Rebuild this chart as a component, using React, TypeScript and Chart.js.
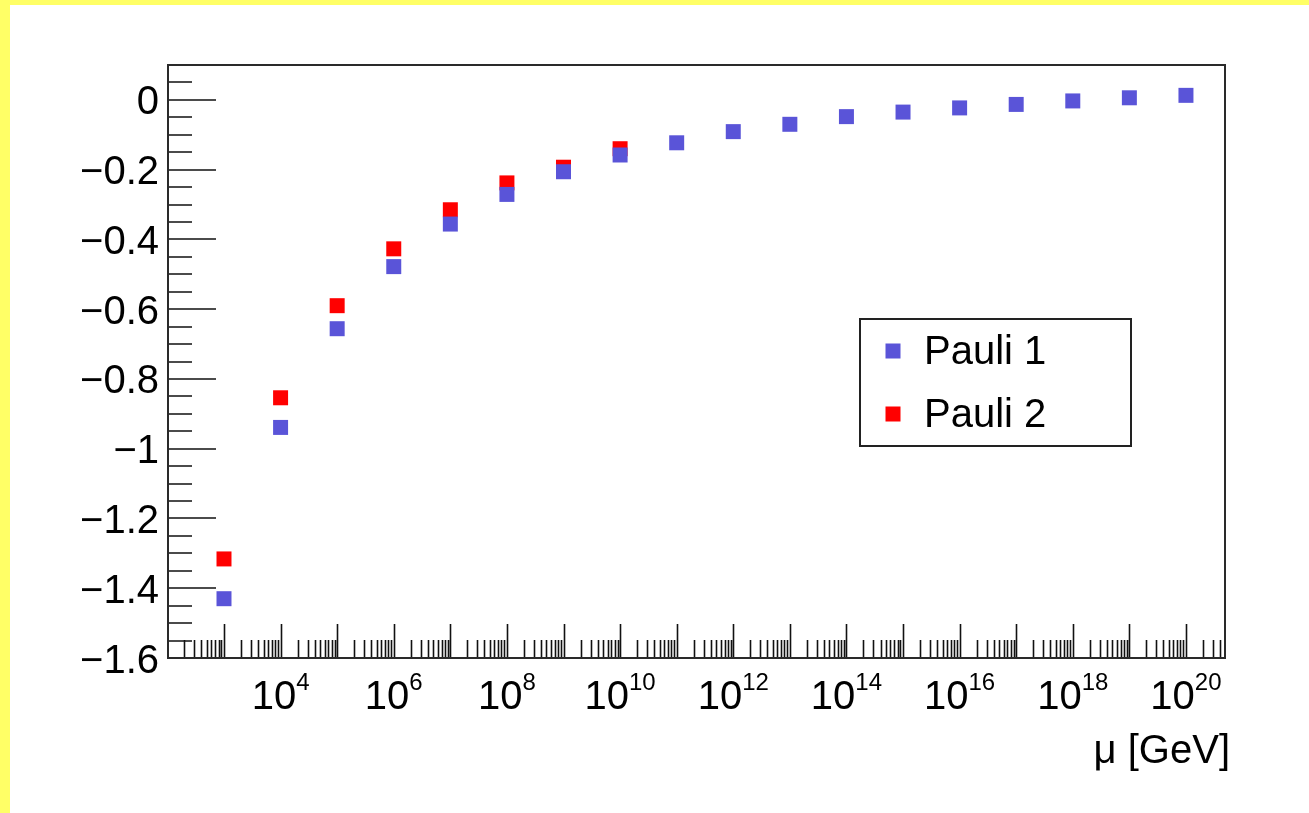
import React, { useEffect, useRef } from "react";
import { Chart, registerables } from "chart.js";

Chart.register(...registerables);

// Renormalisation scale μ in GeV, one point per decade (exponents of 10)
const muExponents = [3, 4, 5, 6, 7, 8, 9, 10, 11, 12, 13, 14, 15, 16, 17, 18, 19, 20];

// Running of the two Pauli couplings
const pauli1 = [-1.43, -0.939, -0.656, -0.478, -0.356, -0.271, -0.206, -0.158, -0.123, -0.091, -0.07, -0.048, -0.035, -0.023, -0.013, -0.003, 0.006, 0.013];
const pauli2 = [-1.316, -0.854, -0.59, -0.427, -0.315, -0.238, -0.193, -0.14];

// Axis labelling
const yTickValues = [0, -0.2, -0.4, -0.6, -0.8, -1, -1.2, -1.4, -1.6];
const yTickLabels = ["0", "\u22120.2", "\u22120.4", "\u22120.6", "\u22120.8", "\u22121", "\u22121.2", "\u22121.4", "\u22121.6"];
const xLabelExponents = [4, 6, 8, 10, 12, 14, 16, 18, 20];
const xTitle = "\u03bc [GeV]";

const X_MIN = Math.pow(10, 2.0104);
const X_MAX = Math.pow(10, 20.69);
const Y_MIN = -1.6;
const Y_MAX = 0.1;

const BLUE = "rgb(90, 84, 216)";
const RED = "rgb(255, 0, 0)";
const FONT = "'Liberation Sans', Arial, Helvetica, sans-serif";

const pageBackground = {
  id: "pageBackground",
  beforeDraw(chart: any) {
    const { ctx, width, height } = chart;
    ctx.save();
    ctx.fillStyle = "#ffffff";
    ctx.fillRect(0, 0, width, height);
    ctx.fillStyle = "#ffff66";
    ctx.fillRect(0, 0, width, 5);
    ctx.fillRect(0, 0, 10, height);
    ctx.restore();
  },
};

// Frame, inward ticks and tick labels in the classic physics-plot style
const frameAxes = {
  id: "frameAxes",
  beforeDatasetsDraw(chart: any) {
    const { ctx, chartArea } = chart;
    const xs = chart.scales.x;
    const ys = chart.scales.y;
    const { left, right, top, bottom } = chartArea;
    ctx.save();

    // ticks
    ctx.strokeStyle = "#111";
    ctx.lineWidth = 1.6;
    ctx.beginPath();
    // y minor/major ticks every 0.05
    for (let i = 0; i <= 34; i++) {
      const v = Y_MIN + i * 0.05;
      if (v > Y_MAX - 1e-6 || i === 0) continue;
      const major = i % 4 === 0;
      const py = Math.round(ys.getPixelForValue(v));
      ctx.moveTo(left, py);
      ctx.lineTo(left + (major ? 48 : 24), py);
    }
    // x decade and sub-decade ticks
    for (let d = 2; d <= 20; d++) {
      for (let m = 1; m <= 9; m++) {
        const v = m * Math.pow(10, d);
        if (v <= X_MIN || v >= X_MAX) continue;
        const px = Math.round(xs.getPixelForValue(v)) + 0.5;
        ctx.moveTo(px, bottom);
        ctx.lineTo(px, bottom - (m === 1 ? 34 : 18));
      }
    }
    ctx.stroke();

    // frame
    ctx.strokeStyle = "#2a2a2a";
    ctx.lineWidth = 2;
    ctx.strokeRect(left, top, right - left, bottom - top);

    // y labels
    ctx.fillStyle = "#000";
    ctx.font = `40px ${FONT}`;
    ctx.textAlign = "right";
    ctx.textBaseline = "alphabetic";
    yTickValues.forEach((v, i) => {
      const py = ys.getPixelForValue(v);
      ctx.fillText(yTickLabels[i], left - 9, py + 14.5);
    });

    // x labels: 10 with superscript exponent
    ctx.textAlign = "left";
    xLabelExponents.forEach((e) => {
      const px = xs.getPixelForValue(Math.pow(10, e));
      ctx.font = `40px ${FONT}`;
      const wBase = ctx.measureText("10").width;
      ctx.font = `24px ${FONT}`;
      const wExp = ctx.measureText(String(e)).width;
      const x0 = px - (wBase + wExp) / 2;
      ctx.font = `40px ${FONT}`;
      ctx.fillText("10", x0, 709);
      ctx.font = `24px ${FONT}`;
      ctx.fillText(String(e), x0 + wBase, 690);
    });

    // axis title
    ctx.font = `40px ${FONT}`;
    ctx.textAlign = "right";
    ctx.fillText(xTitle, right + 5, 763);
    ctx.restore();
  },
  afterDatasetsDraw(chart: any) {
    const { ctx } = chart;
    ctx.save();
    ctx.fillStyle = "#fff";
    ctx.fillRect(860, 319, 271, 127);
    ctx.strokeStyle = "#222";
    ctx.lineWidth = 2;
    ctx.strokeRect(860, 319, 271, 127);
    const rows = [351, 414];
    chart.data.datasets.forEach((ds: any, i: number) => {
      ctx.fillStyle = ds.backgroundColor;
      ctx.fillRect(893 - 7.5, rows[i] - 7.5, 15, 15);
      ctx.fillStyle = "#000";
      ctx.font = `40px ${FONT}`;
      ctx.textAlign = "left";
      ctx.textBaseline = "alphabetic";
      ctx.fillText(ds.label, 924, rows[i] + 13);
    });
    ctx.restore();
  },
};

export default function App() {
  const ref = useRef<HTMLCanvasElement>(null);

  useEffect(() => {
    const canvas = ref.current;
    if (!canvas) return;
    const chart = new Chart(canvas, {
      type: "scatter",
      data: {
        datasets: [
          {
            label: "Pauli 1",
            data: pauli1.map((y, i) => ({ x: Math.pow(10, muExponents[i]), y })),
            backgroundColor: BLUE,
            borderColor: BLUE,
            pointStyle: "rect",
            pointRadius: 10.6,
            pointBorderWidth: 0,
          },
          {
            label: "Pauli 2",
            data: pauli2.map((y, i) => ({ x: Math.pow(10, muExponents[i]), y })),
            backgroundColor: RED,
            borderColor: RED,
            pointStyle: "rect",
            pointRadius: 10.6,
            pointBorderWidth: 0,
          },
        ],
      },
      options: {
        animation: false,
        responsive: false,
        devicePixelRatio: 1,
        events: [],
        layout: { padding: { left: 168, top: 65, right: 84, bottom: 155 } },
        scales: {
          x: { type: "logarithmic", min: X_MIN, max: X_MAX, display: false },
          y: { type: "linear", min: Y_MIN, max: Y_MAX, display: false },
        },
        plugins: {
          legend: { display: false },
          tooltip: { enabled: false },
        },
      },
      plugins: [pageBackground, frameAxes],
    });
    return () => chart.destroy();
  }, []);

  return (
    <div style={{ position: "fixed", left: 0, top: 0, width: 1309, height: 813 }}>
      <canvas ref={ref} width={1309} height={813} style={{ display: "block" }} />
    </div>
  );
}
